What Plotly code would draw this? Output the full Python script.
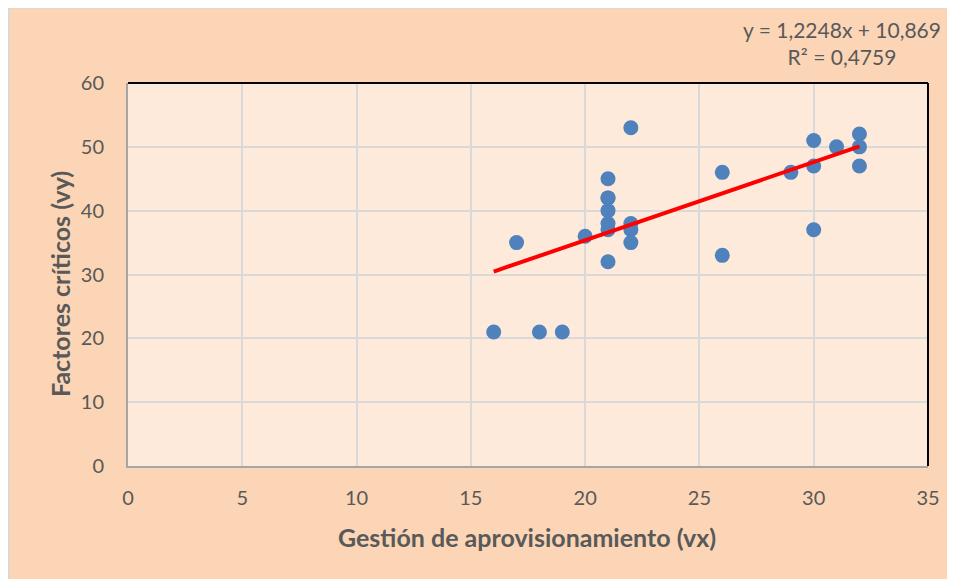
import plotly.graph_objs as go

# Data
gestion_vx = [16, 17, 18, 19, 20,
              21, 21, 21, 21, 21, 21, 21,
              22, 22, 22, 22,
              26, 26, 29, 30, 30, 30, 31, 32, 32, 32]
factores_vy = [21, 35, 21, 21, 36,
               45, 42, 42, 40, 38, 37, 32,
               53, 38, 37, 35,
               46, 33, 46, 51, 47, 37, 50, 52, 50, 47]

# Linear trend as printed on the chart
slope = 1.2248
intercept = 10.869
r_squared = 0.4759

x_ticks = [0, 5, 10, 15, 20, 25, 30, 35]
y_ticks = [0, 10, 20, 30, 40, 50, 60]

FONT = "Lato, 'Open Sans', sans-serif"
GREY_TEXT = "#595959"

trend_x = [min(gestion_vx), max(gestion_vx)]
trend_y = [slope * v + intercept for v in trend_x]


def fmt(v, nd):
    """Spanish-style decimal comma."""
    return f"{v:.{nd}f}".replace(".", ",")


fig = go.Figure()

fig.add_trace(go.Scatter(
    x=gestion_vx, y=factores_vy, mode="markers",
    marker=dict(size=15, color="#4F81BD"),
    showlegend=False, cliponaxis=False,
))

fig.add_trace(go.Scatter(
    x=trend_x, y=trend_y, mode="lines",
    line=dict(color="#FF0000", width=4),
    showlegend=False,
))

axis_common = dict(
    showgrid=True, gridcolor="#D9D9D9", gridwidth=1.5,
    zeroline=False, showline=True, linecolor="#A6A6A6", linewidth=2,
    ticks="outside", tickcolor="rgba(0,0,0,0)",
    tickfont=dict(family=FONT, size=20, color=GREY_TEXT),
)

fig.update_xaxes(range=[0, 35], tickvals=x_ticks, ticklen=13, **axis_common)
fig.update_yaxes(range=[0, 60], tickvals=y_ticks, ticklen=18, **axis_common)

# chart border and plot frame (black top/right edges)
shapes = [
    dict(type="rect", xref="paper", yref="paper",
         x0=-0.149, x1=1.1, y0=-0.4, y1=1.195,
         line=dict(color="#D9D9D9", width=1.5), layer="below"),
    dict(type="line", xref="paper", yref="paper", x0=0, x1=1.0, y0=1, y1=1,
         line=dict(color="#000000", width=2)),
    dict(type="line", xref="paper", yref="paper", x0=1.0, x1=1.0, y0=0, y1=1,
         line=dict(color="#000000", width=2)),
]

annotations = [
    dict(text=f"y = {fmt(slope, 4)}x + {fmt(intercept, 3)}<br>R² = {fmt(r_squared, 4)}",
         xref="paper", yref="paper", x=0.8925, y=1.178,
         xanchor="center", yanchor="top", showarrow=False, align="center",
         font=dict(family=FONT, size=21, color=GREY_TEXT)),
    dict(text="<b>Gestión de aprovisionamiento (vx)</b>",
         xref="paper", yref="paper", x=0.499, y=-0.185,
         xanchor="center", yanchor="middle", showarrow=False,
         font=dict(family=FONT, size=25, color=GREY_TEXT)),
    dict(text="<b>Factores críticos (vy)</b>",
         xref="paper", yref="paper", x=-0.085, y=0.475,
         xanchor="center", yanchor="middle", showarrow=False, textangle=-90,
         font=dict(family=FONT, size=25, color=GREY_TEXT)),
]

fig.update_layout(
    width=947, height=571,
    margin=dict(l=120, r=27, t=75, b=113),
    paper_bgcolor="#FBD5B5",
    plot_bgcolor="#FDEADA",
    shapes=shapes,
    annotations=annotations,
    font=dict(family=FONT, color=GREY_TEXT),
)

fig.write_html("out.html")
